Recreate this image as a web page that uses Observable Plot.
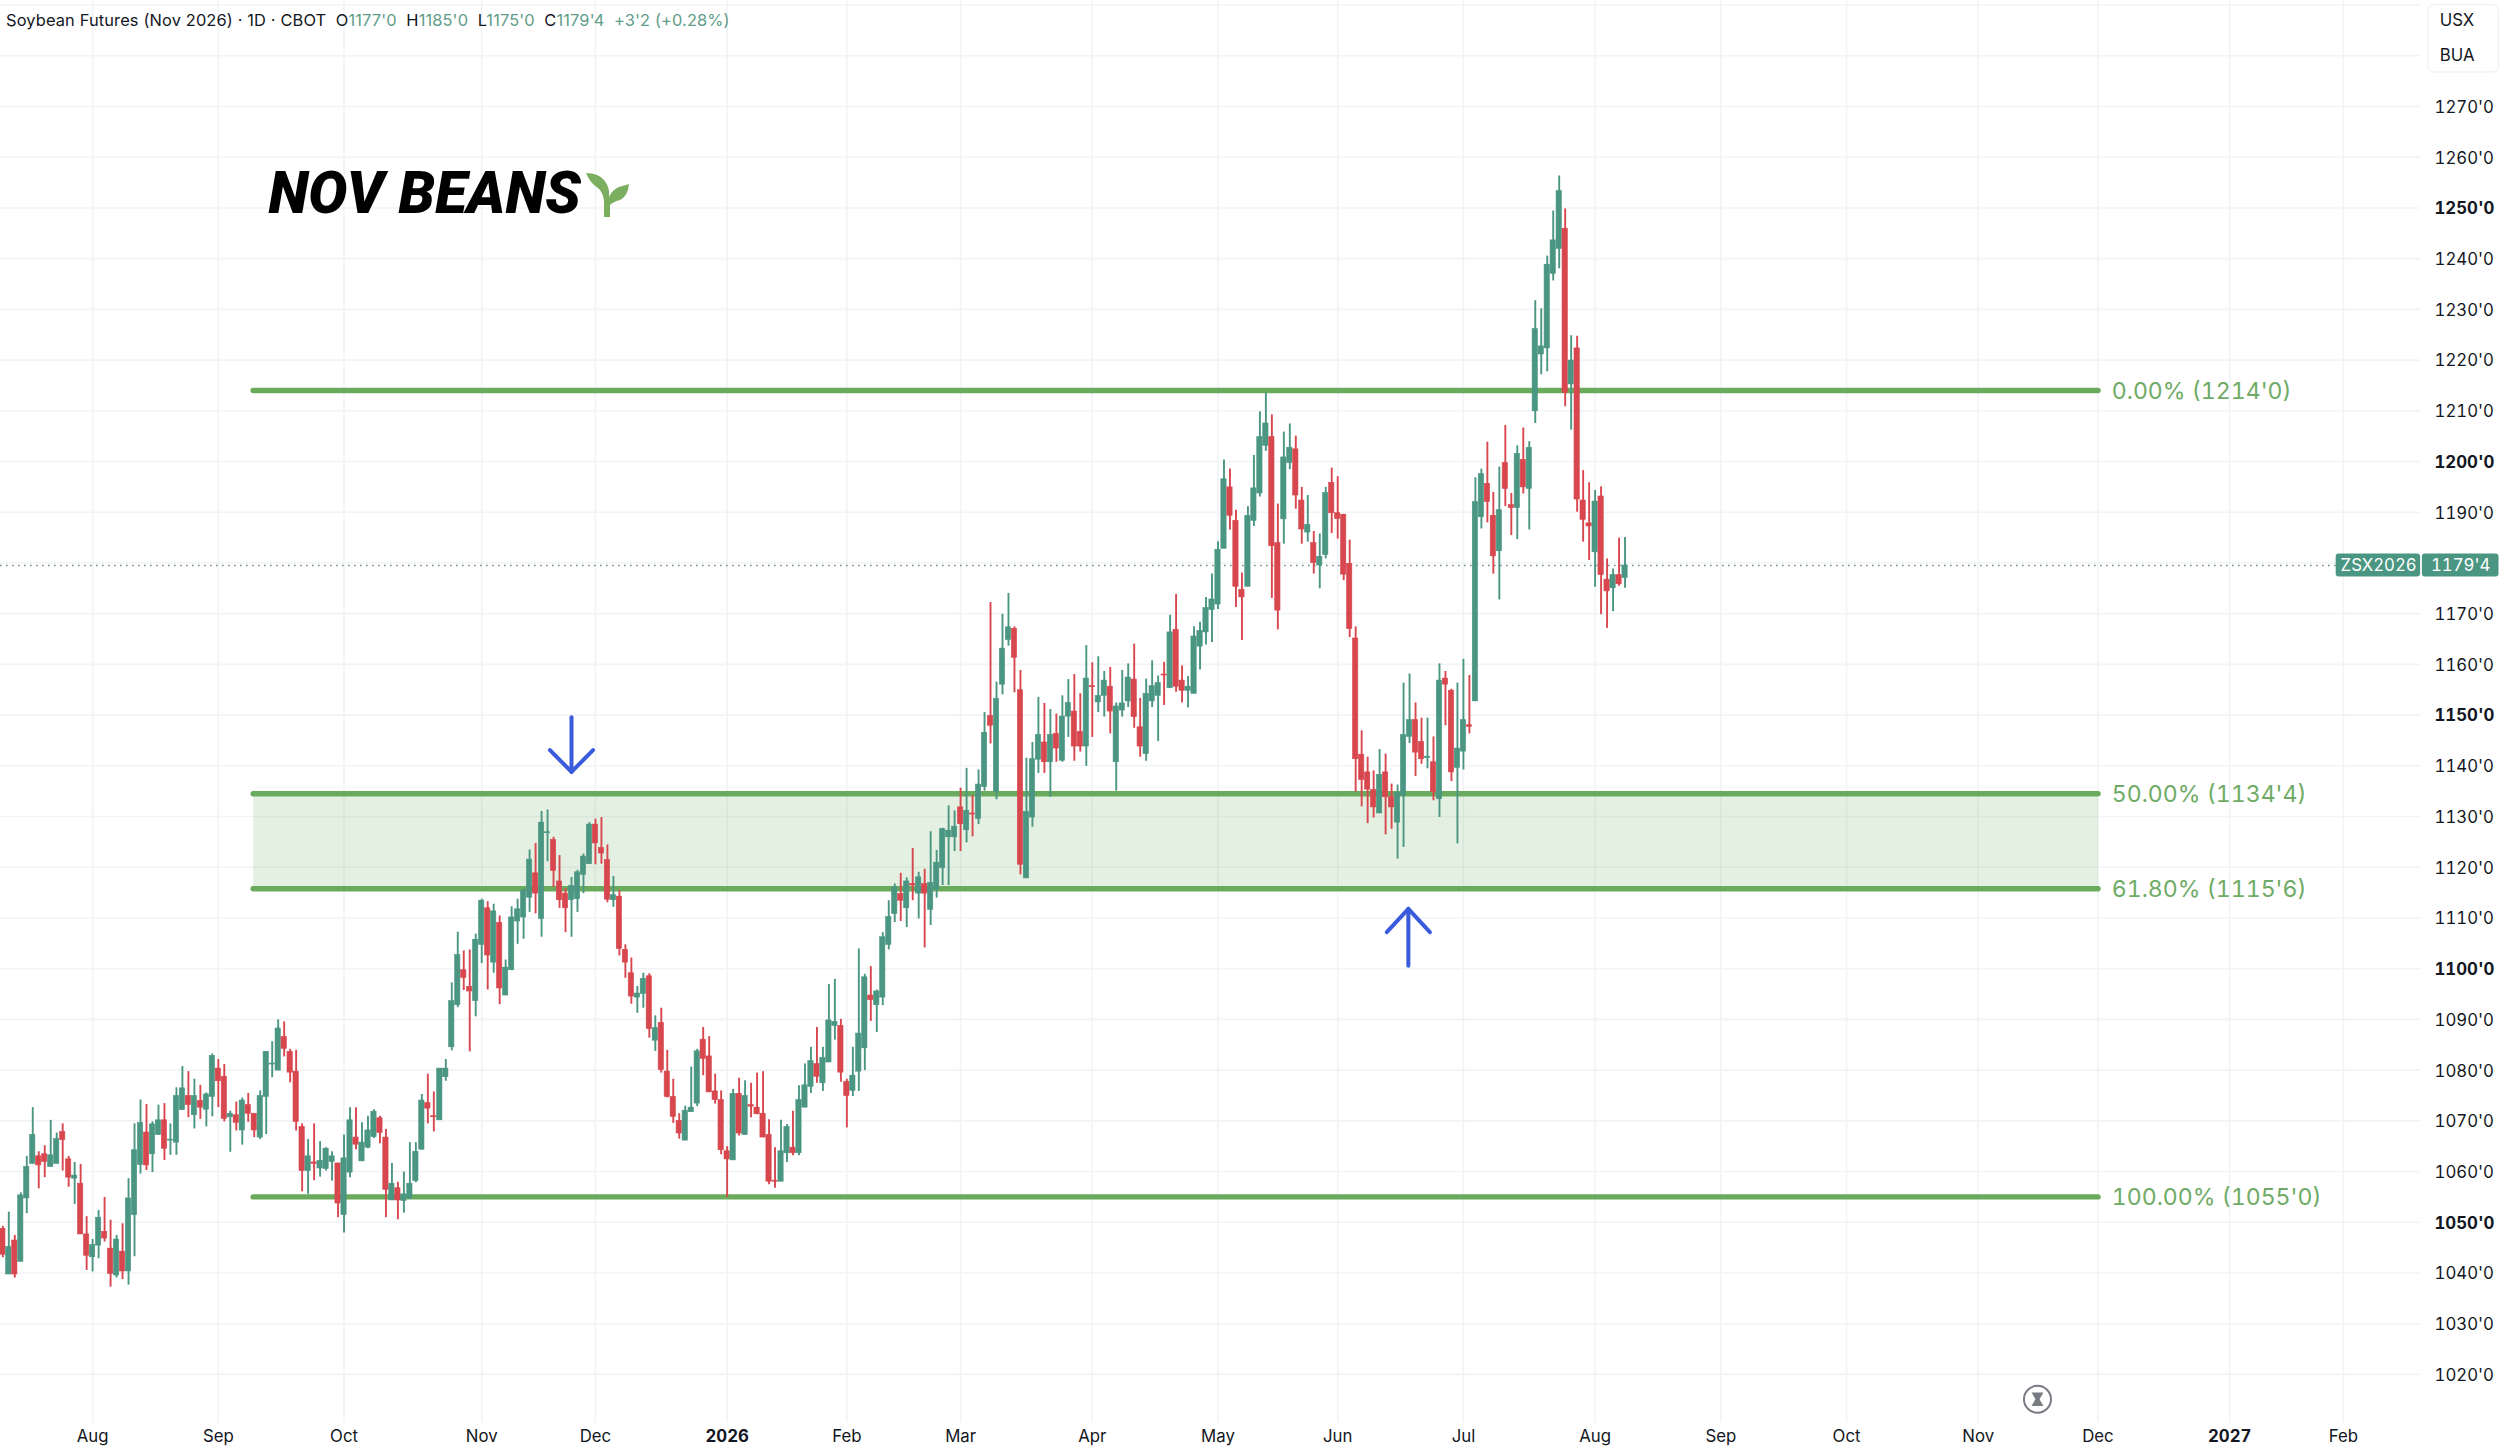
<!DOCTYPE html>
<html>
<head>
<meta charset="utf-8">
<script src="https://cdn.jsdelivr.net/npm/d3@7"></script>
<script src="https://cdn.jsdelivr.net/npm/@observablehq/plot@0.6"></script>
<style>
html,body{margin:0;padding:0;background:#fff;}
#wrap{position:relative;width:2500px;height:1451px;overflow:hidden;}
#legend{position:absolute;left:6px;top:10px;font:16.4px Inter,sans-serif;letter-spacing:.14px;color:#131722;white-space:pre;z-index:2;}
#legend span{color:#5f9d8a;}
svg{display:block;}
</style>
</head>
<body>
<div id="wrap">
<div id="legend">Soybean Futures (Nov 2026) · 1D · CBOT  O<span>1177'0</span>  H<span>1185'0</span>  L<span>1175'0</span>  C<span>1179'4</span>  <span>+3'2 (+0.28%)</span></div>
<div id="chart"></div>
</div>
<script>
const opens = [
1048.7,1039.7,1046.4,1042.2,1054.7,1061.5,1063,1063.4,1060.9,1061.5,
1067.8,1062.4,1058.6,1057.6,1047.6,1043.1,1045.4,1048.1,1044.8,1039.5,
1044.2,1040.3,1051.4,1061.3,1067.7,1063.4,1067.2,1070.1,1066.1,1065.7,
1072.1,1074.9,1071.1,1073.9,1072.2,1074.7,1080.3,1078.7,1070.7,1071.1,
1068.1,1073.1,1071.4,1066.7,1074.7,1081.1,1079.9,1086.5,1083.6,1079.7,
1068.8,1060.1,1061.8,1060.6,1060.5,1061.9,1061.6,1051.4,1059.8,1066.7,
1062,1064.7,1066.8,1070.5,1066.7,1054.3,1056.7,1054.2,1054.7,1058.1,
1064.3,1073.5,1070.9,1070.1,1078.6,1084.5,1092.8,1099.7,1096.4,1093.6,
1104.7,1111.9,1101.2,1109,1094.7,1099.7,1109.3,1110.1,1114,1118.8,
1109.8,1126.7,1125.4,1117.2,1114.8,1113.5,1113.7,1118.5,1120.6,1128.4,
1123.8,1121.4,1113.5,1114.2,1103.7,1099.1,1094.3,1095,1098.5,1085.8,
1089.3,1079.7,1074.7,1070,1066.1,1071.7,1073.4,1086,1082.7,1075.8,
1074.1,1064,1062.2,1075.3,1067.2,1073.1,1072.6,1071.4,1067.2,1058.2,
1058,1063.6,1064.7,1063.6,1072.6,1076.7,1081.2,1077.4,1081.5,1088.7,
1088.7,1077.7,1075.9,1079.7,1084.3,1094.7,1092.8,1094.3,1104.7,1110.8,
1114.7,1111.9,1116.7,1114.8,1116.7,1111.6,1115.6,1119.8,1125.9,1125.9,
1131.8,1127.3,1130.6,1129.5,1135.8,1149.8,1134.8,1156,1164.8,1167,
1154.9,1117.8,1129.8,1141.2,1144.6,1140.7,1146.3,1141,1149.7,1150.7,
1146.7,1143.8,1155.7,1152.5,1153.8,1155.6,1140.7,1150.9,1152.7,1157,
1147.6,1142.3,1152.7,1153.8,1158,1155.3,1166.8,1156.8,1154.8,1154.2,
1163.5,1166.3,1170.7,1171.8,1182.8,1194.9,1188.3,1174.7,1175.3,1188.3,
1193.7,1203.1,1204.8,1183.9,1188.6,1199.7,1202.4,1192.3,1186,1183.9,
1179.5,1181.6,1195.8,1189.8,1189.5,1179.8,1165.1,1142.2,1138.7,1135.2,
1130.6,1138.7,1133.8,1128.8,1134.1,1145.7,1149,1144.7,1141.5,1140.7,
1133.4,1157.2,1154.8,1139.6,1142.8,1148,1152.7,1189,1195.6,1189.3,
1182.3,1199.7,1191.4,1190.8,1200.3,1194.6,1209.9,1221.1,1222.3,1237,
1241.9,1245.9,1215.2,1222.3,1192.3,1187.8,1182.1,1193.1,1176.7,1175,1177.6,1177];
const highs = [
1049.2,1052,1047.4,1055.8,1063,1072.6,1063.9,1065.1,1070.1,1067.6,
1069.4,1063,1061.8,1061.4,1051.1,1046.6,1052.3,1054.9,1050.4,1047.4,
1049.7,1058.6,1069.4,1074.1,1073.2,1069.8,1073.1,1073.4,1069.4,1076.5,
1080.7,1079.7,1078.2,1077,1075.5,1083.2,1082.1,1081.1,1071.9,1073.7,
1074.5,1075.4,1071.4,1075.9,1083.6,1085.6,1089.9,1089.5,1084.1,1083.9,
1069.4,1066.3,1069.4,1065.9,1064.7,1063.9,1061.6,1067.2,1072.6,1072.6,
1069.6,1070.9,1072.2,1070.9,1068.3,1061.6,1057.9,1059.9,1065.7,1065.7,
1075.2,1079.2,1075.7,1080.3,1082.1,1097.2,1107.2,1103.5,1103.7,1106.8,
1113.7,1113.2,1112.7,1110.4,1101.7,1112.2,1113.7,1115.7,1123.4,1124.7,
1131,1131.3,1125.9,1122.3,1115.8,1118,1119.4,1122.6,1128.8,1129.5,
1129.8,1124.4,1118.2,1115.4,1104.7,1102.1,1096.5,1099.1,1099,1090.7,
1092.2,1083.9,1078.2,1071.4,1072.9,1080.6,1084.1,1088.4,1086.6,1079.2,
1075.9,1064.9,1076.2,1078.4,1077.9,1077.4,1079.4,1079.7,1070.2,1064.7,
1070.1,1069.3,1071.9,1076.9,1081.2,1084.5,1088.4,1084.5,1096.9,1097.9,
1090,1078.2,1084.5,1103.9,1098.9,1100.4,1095.8,1107.1,1113.4,1116.7,
1118.8,1117.9,1123.7,1119,1119.6,1127,1123.3,1127.7,1132.1,1131.1,
1135.6,1139.5,1134.1,1139.2,1150.5,1172.2,1156.5,1169.9,1174,1167.4,
1158.8,1141.5,1144.6,1153.5,1152.3,1151.1,1150.2,1153.8,1157,1158,
1154.2,1163.7,1160.3,1161.5,1158.6,1159.4,1152.4,1158.8,1160.1,1164,
1153.3,1157.1,1160.7,1157.7,1160.4,1169.7,1173.8,1159.7,1157.6,1167.4,
1168.3,1173.2,1177.8,1184.2,1200.3,1198.5,1190.4,1178,1191.1,1201.2,
1209.8,1213.5,1209.2,1191.6,1205.8,1207.4,1205,1194.9,1193.3,1186.2,
1185.7,1194.9,1198.7,1197,1189.6,1184.5,1167.4,1146.9,1141.7,1139,
1143.2,1142.3,1136.4,1136.2,1156.3,1158.1,1152.4,1149.4,1149.4,1145.7,
1160.1,1158.6,1155.1,1156.3,1161,1157.8,1196.8,1198.5,1203.8,1193.9,
1198.9,1207.1,1193.7,1203.1,1206.6,1203.9,1231.7,1230.1,1240.5,1249.4,
1256.3,1249.8,1224.8,1224.7,1198.2,1195.8,1194.3,1195,1180.8,1178.8,1184.9,1185];
const lows = [
1043,1039.7,1039,1042.2,1051.7,1061.5,1056.6,1058.8,1060.9,1061.5,
1060.1,1056.9,1053.5,1047.6,1040.5,1040.2,1042.8,1046.1,1037.2,1039,
1038.7,1037.6,1043.2,1059.5,1060.2,1059.8,1067.2,1062.2,1063.2,1063.2,
1072.1,1070.6,1068.4,1070.3,1068.8,1070.8,1072.6,1069.8,1063.8,1068,
1065.2,1069.7,1066.7,1066.3,1067.3,1078.5,1079.9,1082.6,1077.5,1068,
1056,1055.5,1058.2,1058.9,1060.1,1058.1,1050.9,1047.9,1058.8,1064.3,
1062,1064.5,1066.5,1065.5,1050.9,1054.3,1050.5,1051.8,1054.5,1057.8,
1064.3,1069.4,1067.8,1070.1,1077.8,1083.8,1092.3,1095.7,1083.6,1090.5,
1101,1095.8,1099.1,1092.9,1094.7,1099.6,1104.8,1105.8,1111.1,1110.8,
1106.2,1121.1,1116,1111.9,1107.1,1106.2,1111.1,1114.8,1120.6,1120.5,
1120.6,1113,1112.1,1102.5,1098.1,1093,1091.2,1092.2,1086.3,1083.7,
1079.4,1074.5,1069.5,1066.4,1066.1,1071.7,1072.8,1078.9,1075.6,1073.3,
1063.3,1054.9,1062.2,1067,1067.2,1070.6,1071.2,1066.7,1057.4,1056.7,
1058,1061.8,1063.1,1063.1,1072.6,1075.4,1077.4,1075.8,1081.5,1085.9,
1077.6,1068.6,1074.8,1075.8,1079.9,1089.6,1087.4,1092.7,1103.7,1109.1,
1109.3,1108.1,1113.4,1109.8,1104.1,1108.5,1113.9,1116.4,1116.4,1123.1,
1123.1,1124.8,1126,1128.4,1135,1144.3,1133.3,1154,1163.6,1154.4,
1118.5,1117.8,1127.9,1138.5,1138.5,1133.8,1140.7,1140.7,1145.6,1140.9,
1142.7,1139.9,1145.6,1150.5,1149.6,1146.3,1135,1149.6,1151.5,1147.4,
1141.7,1140.9,1151.5,1144.8,1151.9,1155.3,1154.5,1152.4,1151.4,1154.2,
1158.9,1163.8,1164.3,1170.8,1182.8,1186.5,1171.2,1164.7,1175.3,1187.2,
1193,1202,1173,1166.8,1183.7,1198.4,1190.6,1183.7,1184.1,1177.8,
1174.9,1180.8,1185.8,1184.7,1176.5,1165.3,1134.8,1131.9,1128.6,1129.7,
1130.6,1126.4,1127.5,1121.6,1123.9,1144.4,1137.9,1140.3,1139.4,1133.1,
1129.8,1147.9,1136.9,1124.6,1139.2,1146.3,1152.7,1186.7,1187.9,1177.8,
1172.7,1191.1,1185.4,1184.6,1193.6,1186.5,1207.5,1217.1,1217.7,1235.6,
1238,1210.8,1206.2,1190,1184.1,1180.5,1175.2,1169.8,1167.1,1170.4,1175.4,1175];
const closes = [
1043.6,1045.1,1039.7,1055.3,1060.9,1067.2,1061.2,1061.9,1063.2,1066.4,
1066.2,1058.8,1059.2,1047.6,1043.4,1045.5,1050.9,1046.8,1039.8,1046.6,
1040.3,1054.7,1064.2,1069.6,1061.2,1069.3,1070.1,1064.5,1066.3,1074.9,
1076.4,1073.1,1074.9,1072.6,1075.2,1082.8,1077.8,1070.4,1071.4,1069.6,
1074,1071.4,1068.1,1074.9,1083.6,1081.3,1088.2,1084.2,1079.5,1069.8,
1060.1,1063,1061.5,1062.1,1064.5,1063,1053.7,1062.6,1070.1,1065.3,
1065.7,1068.1,1071.8,1067.6,1056.4,1057.6,1054.3,1055.5,1057.6,1063.9,
1074,1072.4,1070.7,1080.3,1080.3,1093.6,1102.7,1098.2,1095.5,1105.7,
1113.4,1102.6,1111.3,1096.1,1100.2,1110.1,1111.7,1115.4,1121.5,1114.8,
1128.8,1126.9,1119.3,1113.5,1111.9,1116.3,1119,1122.1,1128.4,1124.7,
1122.7,1113.6,1114.5,1103.9,1101.2,1094.5,1095.1,1098,1088.1,1088.3,
1080,1074.7,1070.8,1067.5,1072,1072.6,1083.7,1082.2,1075.6,1074.1,
1064.2,1062.4,1075.3,1067.5,1074.9,1072.8,1071.3,1066.7,1058,1058,
1064,1068.8,1063.6,1074.1,1077,1081.8,1078.7,1082.4,1089.8,1089.5,
1079.5,1074.9,1078.9,1087.2,1098.3,1093.8,1095.5,1106.2,1110.2,1116,
1113.4,1117.2,1116.4,1118,1114.8,1116.9,1120.9,1127.5,1127.2,1128,
1128.5,1131.1,1130.4,1136.3,1146.5,1147.9,1153.2,1163.1,1167.3,1161.3,
1120.5,1130.9,1141.3,1146.1,1140.7,1146.1,1143.4,1149.7,1152.4,1143.8,
1143.8,1157.2,1155.5,1153.8,1156.8,1150.7,1151.7,1152.3,1157.4,1149.6,
1143.8,1154.2,1155.7,1156.3,1157.8,1166.3,1155.6,1154.8,1155.6,1165.5,
1166.6,1171.1,1172.8,1182.6,1196.5,1189.3,1175.3,1173.2,1189.3,1194.7,
1204.8,1207.5,1183.3,1170.6,1200.8,1202.7,1193.3,1186.6,1187.5,1180,
1181.2,1193.8,1189.8,1188.7,1177.7,1167,1141.3,1137.2,1135.3,1131.8,
1138.2,1133.8,1131.8,1134.6,1146.1,1149,1142.6,1141.3,1141.8,1134.8,
1156.8,1156,1138.7,1143.4,1149,1147.7,1192,1197.5,1192,1181.3,
1190.4,1194.6,1190.8,1201.5,1194.9,1202.7,1226.1,1222.7,1238.8,1243.6,
1253.3,1213.5,1219.9,1192.5,1188.5,1187.2,1192.1,1177.6,1174.4,1177.6,1175.8,1179.5];

const priceTicks = [1270,1260,1250,1240,1230,1220,1210,1200,1190,1180,1170,1160,1150,1140,1130,1120,1110,1100,1090,1080,1070,1060,1050,1040,1030,1020];
const priceLabels = priceTicks.filter(d => d !== 1180);
const gridPrices = [1290,1280,...priceTicks];
const monthBars = [15,36,57,80,99,121,141,160,182,203,223,244,266,287,308,330,350,372,391];
const monthNames = ["Aug","Sep","Oct","Nov","Dec","2026","Feb","Mar","Apr","May","Jun","Jul","Aug","Sep","Oct","Nov","Dec","2027","Feb"];
const fibLevels = [1214,1134.5,1115.75,1055];
const fibNames = ["0.00% (1214'0)","50.00% (1134'4)","61.80% (1115'6)","100.00% (1055'0)"];
const lastPrice = 1179.5;
const fibStart = 41.9, fibEnd = 350.1, fibLabelBar = 352.3;
const downArrowShaft = [[95,1149.6],[95,1138.8]];
const downArrowHead = [[91.4,1143.1],[95,1138.8],[98.6,1143.1]];
const upArrowShaft = [[234.8,1100.6],[234.8,1111.8]];
const upArrowHead = [[231.2,1107.2],[234.8,1111.8],[238.4,1107.2]];
const hourglassAt = {bar:339.9, price:1015.1};
const currencyCodes = ["USX","BUA"];
const currencyRows = [1286.9,1280.1];

const bars = opens.map((o,i)=>({i,o,h:highs[i],l:lows[i],c:closes[i]}));
const GREEN="#4a9682", RED="#d8464e", FIB="#6aaa5d", GRID="#f2f3f6", BLUE="#3a5bdc";
const fmt = d => `${d}'0`;
const ticksFont="Inter, sans-serif";
const boldPrice = d => d % 50 === 0;
const isYear = s => /^\d/.test(s);
const barColor = d => d.c >= d.o ? GREEN : RED;
const months = monthBars.map((bar,i)=>({bar,name:monthNames[i]}));
const tickStyle = {fill:"#131722",fontSize:16.8,fontFamily:ticksFont,fontVariant:"tabular-nums"};

const chart = Plot.plot({
  width:2500,height:1451,
  marginTop:0,marginRight:0,marginBottom:0,marginLeft:0,
  style:{background:"#fff",overflow:"hidden"},
  x:{type:"linear",domain:[-0.389,417.25],range:[0,2500],axis:null},
  y:{type:"linear",domain:[1290.9,1004.8],range:[0,1451],axis:null},
  marks:[
    Plot.ruleY(gridPrices,{y:d=>d,x1:-0.389,x2:403.9,stroke:GRID,strokeWidth:1.6}),
    Plot.ruleX(monthBars,{x:d=>d,y1:1290.9,y2:1010.4,stroke:GRID,strokeWidth:1.6}),
    Plot.rect([0],{x1:fibStart,x2:fibEnd,y1:fibLevels[1],y2:fibLevels[2],fill:FIB,fillOpacity:.18}),
    Plot.ruleY(fibLevels,{y:d=>d,x1:fibStart,x2:fibEnd,stroke:FIB,strokeWidth:5.4,strokeLinecap:"round"}),
    Plot.ruleY([lastPrice],{y:d=>d,x1:-0.389,x2:389.8,stroke:"#6f8f86",strokeWidth:1.6,strokeDasharray:"1.6 4.4"}),
    Plot.ruleX(bars,{x:"i",y1:"l",y2:"h",stroke:barColor,strokeWidth:1.9}),
    Plot.rect(bars,{x1:d=>d.i-.44,x2:d=>d.i+.44,y1:"o",y2:"c",fill:barColor,stroke:barColor,strokeWidth:.6}),
    Plot.line(downArrowShaft,{x:"0",y:"1",stroke:BLUE,strokeWidth:4,strokeLinecap:"round"}),
    Plot.line(downArrowHead,{x:"0",y:"1",stroke:BLUE,strokeWidth:4,strokeLinecap:"round",strokeLinejoin:"round"}),
    Plot.line(upArrowShaft,{x:"0",y:"1",stroke:BLUE,strokeWidth:4,strokeLinecap:"round"}),
    Plot.line(upArrowHead,{x:"0",y:"1",stroke:BLUE,strokeWidth:4,strokeLinecap:"round",strokeLinejoin:"round"}),
    Plot.text(fibNames,{x:fibLabelBar,y:(d,i)=>fibLevels[i]-.2,text:d=>d,fill:"#6fab66",fontSize:23.1,fontFamily:ticksFont,textAnchor:"start",fontVariant:"tabular-nums"}),
    // y axis labels
    Plot.text(priceLabels.filter(d=>!boldPrice(d)),{y:d=>d,text:fmt,frameAnchor:"left",dx:2434,dy:1,...tickStyle}),
    Plot.text(priceLabels.filter(boldPrice),{y:d=>d,text:fmt,frameAnchor:"left",dx:2434,dy:1,fontWeight:700,...tickStyle}),
    // x axis labels
    Plot.text(months.filter(d=>!isYear(d.name)),{x:"bar",text:"name",frameAnchor:"top",dy:1430,...tickStyle}),
    Plot.text(months.filter(d=>isYear(d.name)),{x:"bar",text:"name",frameAnchor:"top",dy:1430,fontWeight:700,...tickStyle}),
    // headline
    Plot.text(["NOV BEANS"],{text:d=>d,frameAnchor:"top-left",dx:268,dy:171,fontSize:58.4,fontWeight:900,fontStyle:"italic",fontFamily:"Roboto, Liberation Sans, sans-serif",fill:"#000",textAnchor:"start"}),
    // sprout
    (index,{x,y},v,dim)=>{
      const g=d3.create("svg:g").attr("fill","#7cae60");
      g.append("path").attr("d","M604 217 L604 201 Q603 192 598 188 Q590 183 586 173 Q598 173 604 180 Q610 187 609 197 Q612 190 619 187 L629 184 Q628 196 620 200 Q613 202 610 205 L610 217 Z");
      return g.node();
    },
    // hourglass
    Plot.dot([hourglassAt],{x:"bar",y:"price",r:13.5,stroke:"#777b82",strokeWidth:2,fill:"#fff"}),
    Plot.dot([hourglassAt],{x:"bar",y:"price",r:4.4,dy:-3.4,symbol:"triangle",rotate:180,fill:"#777b82"}),
    Plot.dot([hourglassAt],{x:"bar",y:"price",r:4.4,dy:3.4,symbol:"triangle",fill:"#777b82"}),
    // last price tag
    Plot.rect([0],{x1:389.8,x2:403.9,y1:lastPrice+2.25,y2:lastPrice-2.25,fill:GREEN,rx:3}),
    Plot.rect([0],{x1:404.2,x2:417,y1:lastPrice+2.25,y2:lastPrice-2.25,fill:GREEN,rx:3}),
    Plot.text(["ZSX2026"],{x:396.9,y:lastPrice,text:d=>d,fill:"#fff",fontSize:16.8,fontFamily:ticksFont,fontVariant:"tabular-nums"}),
    Plot.text(["1179'4"],{x:410.6,y:lastPrice,text:d=>d,fill:"#fff",fontSize:16.8,fontFamily:ticksFont,fontVariant:"tabular-nums"}),
    // currency box
    Plot.rect([0],{x1:405.2,x2:417,y1:1290,y2:1276.7,fill:"#fff",stroke:GRID,strokeWidth:1.5,rx:6}),
    Plot.text(currencyCodes,{x:407.1,y:(d,i)=>currencyRows[i],text:d=>d,fill:"#131722",fontSize:16.8,fontFamily:ticksFont,textAnchor:"start"})
  ]
});
document.getElementById("chart").appendChild(chart);
</script>
</body>
</html>
